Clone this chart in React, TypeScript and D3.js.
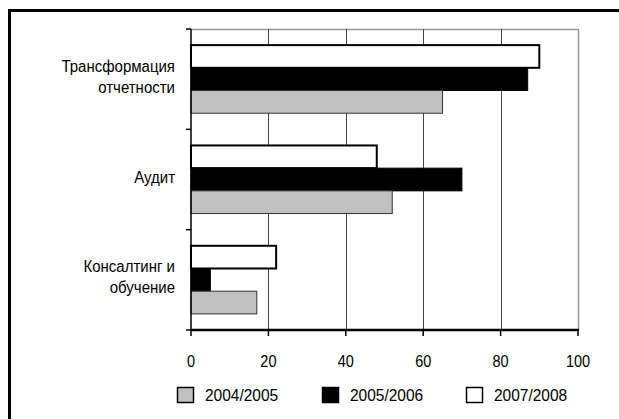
import { useEffect, useRef } from "react";
import * as d3 from "d3";

// categories, top to bottom
const categories = ["Трансформация\nотчетности", "Аудит", "Консалтинг и\nобучение"];
// series in legend order
const seriesNames = ["2004/2005", "2005/2006", "2007/2008"];
const values2004 = [65, 52, 17];
const values2005 = [87, 70, 5];
const values2007 = [90, 48, 22];
const xTicks = [0, 20, 40, 60, 80, 100];

const seriesValues = [values2004, values2005, values2007];
const seriesFill = ["#c0c0c0", "#000000", "#ffffff"];
const seriesStroke = ["#333333", "#000000", "#000000"];
const seriesStrokeWidth = [1, 1, 2];

export default function App() {
  const svgRef = useRef<SVGSVGElement>(null);
  const width = 619;
  const height = 419;

  useEffect(() => {
    if (!svgRef.current) return;
    const svg = d3.select(svgRef.current);
    svg.selectAll("*").remove();

    const font = "'Liberation Sans', Arial, sans-serif";
    const plot = { left: 191, right: 578, top: 29, bottom: 330 };

    // outer frame (only top and left visible)
    svg.append("rect")
      .attr("x", 9.5).attr("y", 10.5)
      .attr("width", 640).attr("height", 440)
      .attr("fill", "#fff")
      .attr("stroke", "#000")
      .attr("stroke-width", 3);

    const x = d3.scaleLinear().domain([0, 100]).range([plot.left, plot.right]);
    const y = d3.scaleBand<string>().domain(categories).range([plot.top, plot.bottom]);
    // inner band: white (2007/2008) on top, gray (2004/2005) at bottom
    const inner = d3.scaleBand<number>()
      .domain([2, 1, 0])
      .range([0, y.bandwidth()])
      .paddingOuter(0.71)
      .paddingInner(0);

    // plot area border (top and right, gray)
    svg.append("path")
      .attr("d", `M${plot.left},${plot.top + 0.5}H${plot.right + 0.5}V${plot.bottom}`)
      .attr("fill", "none")
      .attr("stroke", "#999")
      .attr("stroke-width", 1.5);

    // gridlines
    svg.append("g")
      .selectAll("line")
      .data(xTicks.filter(t => t > 0 && t < 100))
      .join("line")
      .attr("x1", d => Math.round(x(d)) + 0.5)
      .attr("x2", d => Math.round(x(d)) + 0.5)
      .attr("y1", plot.top)
      .attr("y2", plot.bottom)
      .attr("stroke", "#444")
      .attr("stroke-width", 1);

    // bars
    categories.forEach((cat, ci) => {
      [2, 1, 0].forEach(si => {
        const sw = seriesStrokeWidth[si];
        svg.append("rect")
          .attr("x", x(0))
          .attr("y", (y(cat) as number) + (inner(si) as number))
          .attr("width", x(seriesValues[si][ci]) - x(0))
          .attr("height", inner.bandwidth())
          .attr("fill", seriesFill[si])
          .attr("stroke", seriesStroke[si])
          .attr("stroke-width", sw);
      });
    });

    // y axis
    svg.append("line")
      .attr("x1", plot.left).attr("x2", plot.left)
      .attr("y1", plot.top).attr("y2", plot.bottom)
      .attr("stroke", "#000").attr("stroke-width", 1.5);
    const yTickPos = [plot.top, ...categories.map(c => (y(c) as number) + y.bandwidth())];
    svg.append("g")
      .selectAll("line")
      .data(yTickPos)
      .join("line")
      .attr("x1", plot.left - 5).attr("x2", plot.left)
      .attr("y1", d => d).attr("y2", d => d)
      .attr("stroke", "#000").attr("stroke-width", 1.5);

    // x axis
    svg.append("line")
      .attr("x1", plot.left).attr("x2", plot.right + 1)
      .attr("y1", plot.bottom).attr("y2", plot.bottom)
      .attr("stroke", "#000").attr("stroke-width", 2.5);
    svg.append("g")
      .selectAll("line")
      .data(xTicks)
      .join("line")
      .attr("x1", d => x(d)).attr("x2", d => x(d))
      .attr("y1", plot.bottom).attr("y2", plot.bottom + 6)
      .attr("stroke", "#000").attr("stroke-width", 1.5);

    svg.append("g")
      .selectAll("text")
      .data(xTicks)
      .join("text")
      .attr("transform", d => `translate(${x(d)},367) scale(1,1.1)`)
      .attr("text-anchor", "middle")
      .attr("font-family", font)
      .attr("font-size", 14.5)
      .attr("fill", "#000")
      .text(d => d);

    // category labels
    categories.forEach(cat => {
      const lines = cat.split("\n");
      const center = (y(cat) as number) + y.bandwidth() / 2;
      const lh = 21;
      lines.forEach((ln, i) => {
        const by = center - ((lines.length - 1) * lh) / 2 + 3 + i * lh;
        svg.append("text")
          .attr("transform", `translate(175,${by}) scale(1,1.08)`)
          .attr("text-anchor", "end")
          .attr("font-family", font)
          .attr("font-size", 15)
          .attr("fill", "#000")
          .text(ln);
      });
    });

    // legend
    const legendX = [177, 322, 466];
    seriesNames.forEach((name, i) => {
      svg.append("rect")
        .attr("x", legendX[i] + 0.5)
        .attr("y", 387.5)
        .attr("width", 16)
        .attr("height", 15)
        .attr("fill", seriesFill[i])
        .attr("stroke", "#000")
        .attr("stroke-width", 1.5);
      svg.append("text")
        .attr("transform", `translate(${legendX[i] + 28},400.5) scale(1,1.12)`)
        .attr("font-family", font)
        .attr("font-size", 15.5)
        .attr("fill", "#000")
        .text(name);
    });
  }, []);

  return (
    <svg
      ref={svgRef}
      width={width}
      height={height}
      viewBox={`0 0 ${width} ${height}`}
      style={{ position: "absolute", left: 0, top: 0, background: "#fff" }}
    />
  );
}
